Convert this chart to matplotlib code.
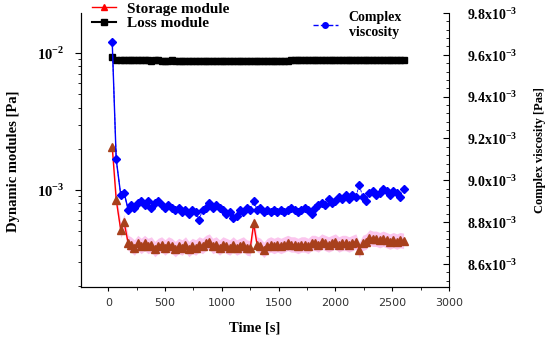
import matplotlib
matplotlib.use("Agg")
import matplotlib.pyplot as plt
import numpy as np
from matplotlib.ticker import FuncFormatter, AutoMinorLocator, FixedLocator
from matplotlib.lines import Line2D

plt.rcParams['mathtext.fontset'] = 'custom'
plt.rcParams['mathtext.rm'] = 'Liberation Serif'
plt.rcParams['mathtext.bf'] = 'Liberation Serif:bold'

# time [s]
time = [35, 70, 110, 140, 175,
        200, 230, 260, 290, 320, 350, 380, 410, 440, 470,
        500, 530, 560, 590, 620, 650, 680, 710, 740, 770,
        800, 830, 860, 890, 920, 950, 980, 1010, 1040, 1070,
        1100, 1130, 1160, 1190, 1220, 1250, 1280, 1310, 1340, 1370,
        1400, 1430, 1460, 1490, 1520, 1550, 1580, 1610, 1640, 1670,
        1700, 1730, 1760, 1790, 1820, 1850, 1880, 1910, 1940, 1970,
        2000, 2030, 2060, 2090, 2120, 2150, 2180, 2210, 2240, 2270,
        2300, 2330, 2360, 2390, 2420, 2450, 2480, 2510, 2540, 2570, 2600]

# storage module [Pa] (x1e-4)
storage = [20.6, 8.5, 5.1, 5.8, 4.1,
           4.0, 3.8, 4.1, 3.9, 4.1, 3.9, 4.0, 3.7, 3.9, 4.0,
           3.8, 4.0, 3.9, 3.7, 3.9, 3.8, 4.0, 3.7, 3.9, 3.8,
           4.0, 3.9, 4.1, 4.2, 3.9, 4.0, 3.8, 4.0, 3.9, 3.8,
           4.0, 3.8, 3.9, 4.0, 3.8, 3.75, 5.7, 4.0, 3.9, 3.65,
           3.9, 4.0, 3.9, 4.0, 3.9, 4.0, 4.1, 4.0, 4.0, 3.9,
           4.0, 4.0, 3.9, 4.1, 4.1, 4.0, 4.2, 4.1, 4.0, 4.1,
           4.2, 4.0, 4.1, 4.1, 4.0, 4.1, 4.2, 3.65, 4.1, 4.2,
           4.5, 4.4, 4.4, 4.3, 4.4, 4.3, 4.2, 4.3, 4.2, 4.3, 4.25]

# loss module [Pa] (x1e-3)
loss = [9.35, 8.95, 8.9, 8.9, 8.85,
        8.85, 8.85, 8.85, 8.85, 8.85, 8.85, 8.8, 8.85, 8.85, 8.8,
        8.8, 8.8, 8.85, 8.8, 8.8, 8.8, 8.8, 8.8, 8.8, 8.8,
        8.8, 8.8, 8.8, 8.8, 8.8, 8.8, 8.8, 8.8, 8.75, 8.8,
        8.8, 8.8, 8.75, 8.8, 8.8, 8.8, 8.8, 8.8, 8.8, 8.8,
        8.8, 8.8, 8.8, 8.8, 8.8, 8.8, 8.8, 8.85, 8.85, 8.85,
        8.85, 8.85, 8.9, 8.85, 8.85, 8.85, 8.9, 8.85, 8.85, 8.85,
        8.85, 8.85, 8.85, 8.85, 8.85, 8.85, 8.85, 8.85, 8.85, 8.85,
        8.85, 8.85, 8.85, 8.85, 8.85, 8.85, 8.85, 8.85, 8.85, 8.85, 8.85]

# complex viscosity [Pas] (x1e-3)
viscosity = [9.66, 9.10, 8.93, 8.94, 8.86,
             8.88, 8.87, 8.89, 8.90, 8.88, 8.90, 8.87, 8.89, 8.90, 8.88,
             8.87, 8.88, 8.87, 8.86, 8.87, 8.85, 8.86, 8.84, 8.86, 8.85,
             8.81, 8.86, 8.87, 8.89, 8.87, 8.88, 8.87, 8.86, 8.84, 8.85,
             8.82, 8.83, 8.86, 8.85, 8.87, 8.86, 8.90, 8.86, 8.87, 8.85,
             8.86, 8.85, 8.86, 8.85, 8.86, 8.85, 8.86, 8.87, 8.86, 8.85,
             8.86, 8.87, 8.86, 8.84, 8.87, 8.88, 8.89, 8.88, 8.91, 8.89,
             8.90, 8.92, 8.91, 8.93, 8.91, 8.93, 8.92, 8.98, 8.92, 8.90,
             8.94, 8.95, 8.93, 8.94, 8.96, 8.95, 8.93, 8.95, 8.94, 8.92, 8.96]

time = np.array(time)
storage = np.array(storage) * 1e-4
loss = np.array(loss) * 1e-3
viscosity = np.array(viscosity) * 1e-3

serif = 'Liberation Serif'

fig = plt.figure(figsize=(5.5, 3.39), dpi=100)
ax = fig.add_axes([81/550, 52/339, 368/550, 274/339])
ax2 = ax.twinx()

ax.fill_between(time, storage*0.88, storage*1.14, color='#fbc6ee', lw=0, zorder=1)
ax.plot(time, storage, color='red', lw=1.0, marker='^', ms=5.5,
        mfc='#a8401c', mec='#a8401c', zorder=3)
ax.plot(time, loss, color='black', lw=3, marker='s', ms=5, zorder=3)
ax2.plot(time, viscosity, color='blue', lw=0.6, ls='--', marker='D', ms=3.8,
         mfc='blue', mec='blue', zorder=3)
ax2.plot(time[:5], viscosity[:5], color='blue', lw=1.0, zorder=3)

ax.set_yscale('log')
ax.set_xlim(-240, 3000)
ax.set_ylim(1.96e-4, 1.96e-2)
ax2.set_ylim(8.49e-3, 9.8e-3)

ax.yaxis.set_major_locator(FixedLocator([1e-3, 1e-2]))
ax.yaxis.set_major_formatter(FuncFormatter(
    lambda v, p: r'$\mathbf{10}^{\mathbf{%d}}$' % round(np.log10(v))))
ax2.set_yticks([8.6e-3, 8.8e-3, 9.0e-3, 9.2e-3, 9.4e-3, 9.6e-3, 9.8e-3])
ax2.yaxis.set_major_formatter(FuncFormatter(
    lambda v, p: r'$\mathbf{%.1fx10}^{\mathbf{-3}}$' % (v*1e3)))
ax2.yaxis.set_minor_locator(AutoMinorLocator(5))
ax.set_xticks([0, 500, 1000, 1500, 2000, 2500, 3000])
ax.xaxis.set_minor_locator(AutoMinorLocator(2))

for a in (ax, ax2):
    a.spines['top'].set_visible(False)
ax.spines['right'].set_visible(False)

ax.tick_params(axis='y', which='major', direction='out', length=4, pad=8, labelsize=10.5)
ax.tick_params(axis='y', which='minor', direction='out', length=2.5)
ax.tick_params(axis='x', which='major', direction='out', length=3, pad=5,
               labelsize=8, labelcolor='#333333')
ax.tick_params(axis='x', which='minor', direction='out', length=2)
ax2.tick_params(axis='y', which='major', direction='in', length=4, pad=13, labelsize=10)
ax2.tick_params(axis='y', which='minor', direction='in', length=2)

ax.set_xlabel('Time [s]', fontfamily=serif, fontweight='bold', fontsize=10.5)
ax.xaxis.set_label_coords(0.473, -0.125)
ax.set_ylabel('Dynamic modules [Pa]', fontfamily=serif, fontweight='bold', fontsize=10.5)
ax.yaxis.set_label_coords(-0.166, 0.46)
ax2.set_ylabel('Complex viscosity [Pas]', fontfamily=serif, fontweight='bold',
               fontsize=9, rotation=90)
ax2.yaxis.set_label_coords(1.232, 0.5)

h1 = [Line2D([], [], color='red', lw=1.0, marker='^', ms=5, mfc='red', mec='red'),
      Line2D([], [], color='black', lw=1.5, marker='s', ms=4)]
leg1 = fig.legend(h1, ['Storage module', 'Loss module'], loc='upper left',
                  bbox_to_anchor=(78/550, 1.035), frameon=False, handlelength=1.6,
                  labelspacing=0.05, handletextpad=0.7,
                  prop={'family': serif, 'weight': 'bold', 'size': 11})
h2 = [Line2D([], [], color='blue', lw=1.0, ls='--', marker='o', ms=4)]
leg2 = fig.legend(h2, ['Complex\nviscosity'], loc='upper left',
                  bbox_to_anchor=(300/550, 1.005), frameon=False, handlelength=1.8,
                  handletextpad=0.8, labelspacing=0.1,
                  prop={'family': serif, 'weight': 'bold', 'size': 10})

fig.savefig('out.png', dpi=100)
